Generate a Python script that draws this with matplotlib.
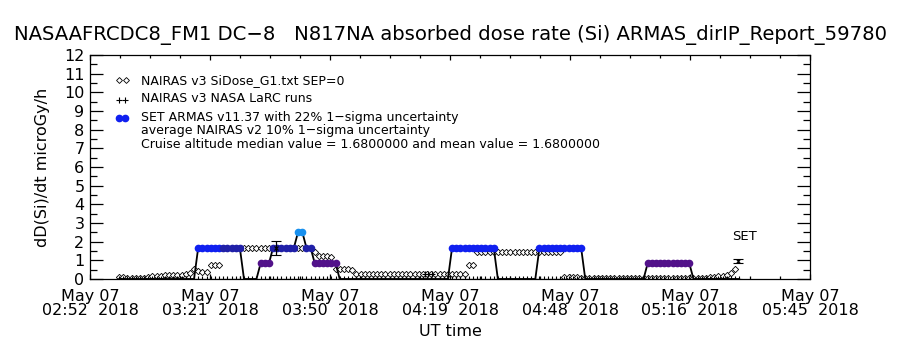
import numpy as np
import matplotlib
matplotlib.use('Agg')
import matplotlib.pyplot as plt
from matplotlib.ticker import FixedLocator, MultipleLocator

plt.rcParams['font.family'] = ['DejaVu Sans']

# time axis in minutes after 02:52:40 UT, 07 May 2018
x_span = 173.0
tick_labels = ['May 07\n02:52  2018', 'May 07\n03:21  2018', 'May 07\n03:50  2018',
               'May 07\n04:19  2018', 'May 07\n04:48  2018', 'May 07\n05:16  2018',
               'May 07\n05:45  2018']

# ARMAS one-minute samples (microGy/h)
armas_min = list(range(7, 157))
armas_val = [0, 0, 0, 0, 0, 0, 0, 0, 0, 0, 0, 0, 0, 0, 0, 0, 0, 0, 0,
             1.68, 1.68, 1.68, 1.68, 1.68, 1.68, 1.68, 1.68, 1.68, 1.68, 1.68,
             0, 0, 0, 0,
             0.84, 0.84, 0.84,
             1.68, 1.68, 1.68, 1.68, 1.68, 1.68,
             2.52, 2.52,
             1.68, 1.68,
             0.84, 0.84, 0.84, 0.84, 0.84, 0.84,
             0, 0, 0, 0, 0, 0, 0, 0, 0, 0, 0, 0, 0, 0, 0, 0, 0, 0, 0, 0, 0, 0, 0, 0, 0, 0, 0,
             1.68, 1.68, 1.68, 1.68, 1.68, 1.68, 1.68, 1.68, 1.68, 1.68, 1.68,
             0, 0, 0, 0, 0, 0, 0, 0, 0, 0,
             1.68, 1.68, 1.68, 1.68, 1.68, 1.68, 1.68, 1.68, 1.68, 1.68, 1.68,
             0, 0, 0, 0, 0, 0, 0, 0, 0, 0, 0, 0, 0, 0, 0,
             0.84, 0.84, 0.84, 0.84, 0.84, 0.84, 0.84, 0.84, 0.84, 0.84, 0.84,
             0, 0, 0, 0, 0, 0, 0, 0, 0, 0, 0, 0]
# colour class of each ARMAS dot: - none, B blue, N navy, P purple, L light blue
armas_cls = ("-------------------" "BBBBBB" "NNNNN" "----" "PPP" "NNNNNN" "LL" "NN"
             "PPPPPP" "---------------------------" "BBBBBBBBBBB" "----------"
             "BBBBBBBBBBB" "---------------" "PPPPPPPPPPP" "------------")
cls_colors = {'B': '#1020f0', 'N': '#2020a8', 'P': '#52128a', 'L': '#1890ee'}

# NAIRAS v3 SiDose_G1 model, one-minute samples
nairas_min = list(range(7, 156))
nairas_val = [0.12, 0.10, 0.06, 0.04, 0.04, 0.04, 0.05, 0.08, 0.16, 0.18, 0.18, 0.20, 0.20,
              0.20, 0.22, 0.22, 0.26, 0.34, 0.52, 0.42, 0.36, 0.36, 0.75, 0.75, 0.75,
              1.68, 1.68, 1.68, 1.68, 1.68, 1.68, 1.68, 1.68, 1.68, 1.68, 1.68,
              1.68, 1.68, 1.68, 1.68, 1.68, 1.68, 1.68, 1.68, 1.68, 1.68, 1.68,
              1.45, 1.22, 1.22, 1.22, 1.20, 0.55, 0.55, 0.55, 0.55, 0.50,
              0.28, 0.28, 0.28, 0.28, 0.28, 0.28, 0.28, 0.28, 0.28, 0.28, 0.28, 0.28, 0.28,
              0.28, 0.28, 0.28, 0.28, 0.28, 0.28, 0.28, 0.28, 0.28, 0.28, 0.28, 0.28, 0.28, 0.28,
              0.73, 0.73,
              1.45, 1.45, 1.45, 1.45, 1.45, 1.45, 1.45, 1.45, 1.45, 1.45, 1.45,
              1.45, 1.45, 1.45, 1.45, 1.45, 1.45, 1.45, 1.45, 1.45, 1.45,
              0.10, 0.10, 0.08, 0.08, 0.06,
              0.03, 0.03, 0.03, 0.03, 0.03, 0.03, 0.03, 0.03, 0.03, 0.03, 0.03, 0.03, 0.03, 0.03,
              0.03, 0.03, 0.03, 0.03, 0.03, 0.03, 0.03, 0.03, 0.03, 0.03, 0.03, 0.03, 0.03, 0.03, 0.03,
              0.06, 0.10, 0.12, 0.15, 0.18, 0.24, 0.32, 0.55]

# NAIRAS v3 NASA LaRC runs
larc_min = list(range(7, 157)) + [80.5, 81.3, 82.1]
larc_val = [0.0] * 150 + [0.28, 0.28, 0.28]

# uncertainty bars: ARMAS 22 % and SET
err_min = [44.7, 155.7]
err_val = [1.68, 0.95]
err_sig = [0.37, 0.12]

assert len(armas_val) == len(armas_min) == len(armas_cls)
assert len(nairas_val) == len(nairas_min)

fig = plt.figure(figsize=(9, 3.5), dpi=100)
ax = fig.add_axes([0.1, 0.2029, 0.8, 0.64])

ax.plot(armas_min, armas_val, color='black', lw=1.3, zorder=3)
ax.plot(nairas_min, nairas_val, ls='none', marker='D', ms=3.2, mfc='white',
        mec='black', mew=0.6, zorder=2)
ax.plot(larc_min, larc_val, ls='none', marker='+', ms=4, mec='black', mew=0.8, zorder=4)
for c, col in cls_colors.items():
    xs = [m for m, k in zip(armas_min, armas_cls) if k == c]
    ys = [v for v, k in zip(armas_val, armas_cls) if k == c]
    ax.plot(xs, ys, ls='none', marker='o', ms=5.5, mfc=col, mec=col, mew=0, zorder=5)
ax.errorbar(err_min, err_val, yerr=err_sig, fmt='x', color='black', ms=3, mew=0.8,
            elinewidth=0.9, capsize=3.5, capthick=0.9, zorder=6)
ax.text(err_min[1] + 1.5, 2.28, 'SET', fontsize=9.5, ha='center', va='center')

ax.set_xlim(0, x_span)
ax.set_ylim(0, 12)
ax.xaxis.set_major_locator(FixedLocator(np.linspace(0, x_span, 7)))
ax.xaxis.set_minor_locator(FixedLocator(np.linspace(0, x_span, 25)))
ax.set_xticklabels(tick_labels, fontsize=11.5, linespacing=0.95)
ax.yaxis.set_major_locator(MultipleLocator(1))
ax.yaxis.set_minor_locator(MultipleLocator(0.5))
ax.tick_params(axis='y', which='major', direction='in', length=9.5, width=0.9,
               right=True, labelsize=11.5, pad=4)
ax.tick_params(axis='y', which='minor', direction='in', length=5, width=0.9, right=True)
ax.tick_params(axis='x', which='major', direction='in', length=3.5, width=0.9,
               top=True, pad=7)
ax.tick_params(axis='x', which='minor', direction='in', length=2, width=0.9, top=True)
for s in ax.spines.values():
    s.set_linewidth(0.9)

ax.set_xlabel('UT time', fontsize=11.5, labelpad=4)
ax.set_ylabel('dD(Si)/dt microGy/h', fontsize=11.5, labelpad=10)
fig.text(0.5, 0.9, 'NASAAFRCDC8_FM1 DC−8   N817NA absorbed dose rate (Si) ARMAS_dirIP_Report_59780',
         ha='center', va='center', fontsize=14.1)

# legend block
tr = ax.transAxes
ax.plot([0.040, 0.050], [0.888, 0.888], ls='none', marker='D', ms=3, mfc='white',
        mec='black', mew=0.6, transform=tr, clip_on=False)
ax.plot([0.040, 0.048], [0.800, 0.800], ls='none', marker='+', ms=4, mec='black',
        mew=0.8, transform=tr, clip_on=False)
ax.plot([0.040, 0.048], [0.720, 0.720], ls='none', marker='o', ms=4.5, mfc='#1020f0',
        mec='#1020f0', transform=tr, clip_on=False)
leg_txt = ['NAIRAS v3 SiDose_G1.txt SEP=0', 'NAIRAS v3 NASA LaRC runs',
           'SET ARMAS v11.37 with 22% 1−sigma uncertainty',
           'average NAIRAS v2 10% 1−sigma uncertainty',
           'Cruise altitude median value = 1.6800000 and mean value = 1.6800000']
leg_y = [0.888, 0.804, 0.722, 0.662, 0.601]
for t, yy in zip(leg_txt, leg_y):
    ax.text(0.071, yy, t, fontsize=9, ha='left', va='center', transform=tr)

fig.savefig('out.png', dpi=100)
